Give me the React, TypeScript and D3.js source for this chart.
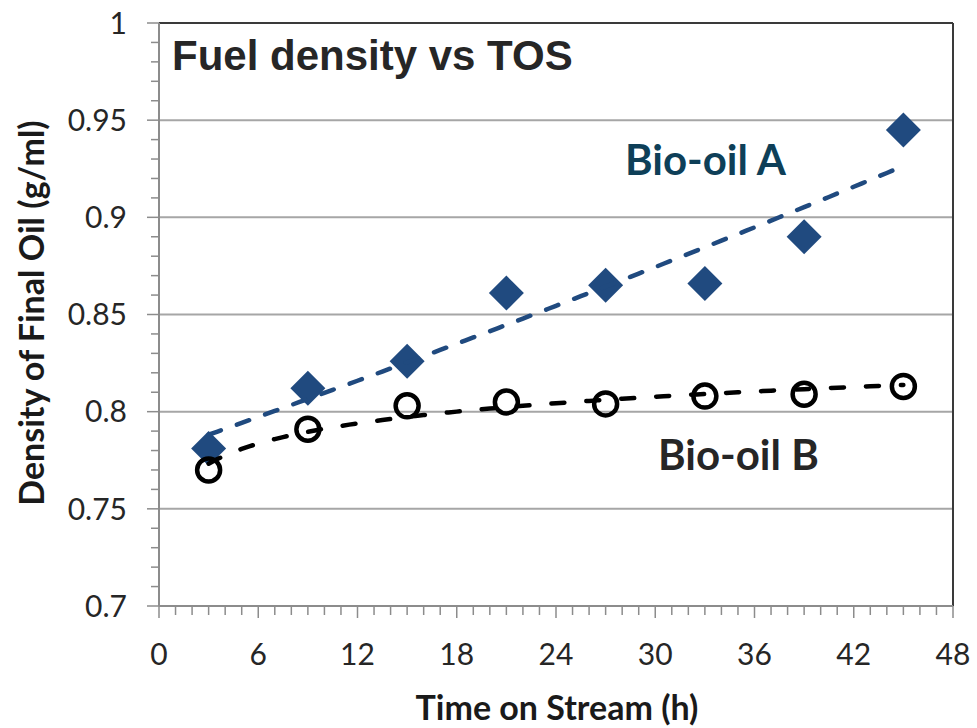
import React from "react";
import * as d3 from "d3";

// time on stream (h)
const hours = [3, 9, 15, 21, 27, 33, 39, 45];
// density of final oil (g/ml)
const bioOilA = [0.781, 0.812, 0.826, 0.861, 0.865, 0.866, 0.89, 0.945];
const bioOilB = [0.77, 0.791, 0.803, 0.805, 0.804, 0.808, 0.809, 0.813];

const xTicks = [0, 6, 12, 18, 24, 30, 36, 42, 48];
const yTicks = [0.7, 0.75, 0.8, 0.85, 0.9, 0.95, 1];
const yTickLabels = ["0.7", "0.75", "0.8", "0.85", "0.9", "0.95", "1"];

const W = 977;
const H = 728;
const plot = { left: 159, right: 953, top: 23, bottom: 606 };

// excel-style trendlines: exponential for A, logarithmic for B
function linFit(xs: number[], ys: number[]) {
  const mx = d3.mean(xs)!;
  const my = d3.mean(ys)!;
  const sxy = d3.sum(xs, (x, i) => (x - mx) * (ys[i] - my));
  const sxx = d3.sum(xs, (x) => (x - mx) ** 2);
  const b = sxy / sxx;
  return { a: my - b * mx, b };
}

export default function App() {
  const x = d3.scaleLinear().domain([0, 48]).range([plot.left, plot.right]);
  const y = d3.scaleLinear().domain([0.7, 1]).range([plot.bottom, plot.top]);

  const expFit = linFit(hours, bioOilA.map((v) => Math.log(v)));
  const logFit = linFit(hours.map((h) => Math.log(h)), bioOilB);
  const trendX = d3.range(3, 45.001, 0.5);

  const line = d3
    .line<number[]>()
    .x((d) => x(d[0]))
    .y((d) => y(d[1]));

  const trendA = line(trendX.map((t) => [t, Math.exp(expFit.a + expFit.b * t)]));
  const trendB = line(trendX.map((t) => [t, logFit.a + logFit.b * Math.log(t)]));

  const yMinor = d3.range(70, 101).map((v) => v / 100);
  const xMinor = d3.range(0, 49);

  const tickFont = "Lato, 'Open Sans', sans-serif";
  const diamond = 17.5;

  return (
    <svg
      width={W}
      height={H}
      style={{ position: "absolute", left: 0, top: 0, background: "#fff" }}
    >
      {/* gridlines */}
      {yTicks.slice(1, -1).map((t) => (
        <line
          key={"g" + t}
          x1={plot.left}
          x2={plot.right}
          y1={y(t)}
          y2={y(t)}
          stroke="#a6a6a6"
          strokeWidth={2}
        />
      ))}
      {/* plot border top / right */}
      <line x1={plot.left} x2={plot.right} y1={plot.top} y2={plot.top} stroke="#3a3a3a" strokeWidth={2} />
      <line x1={plot.right} x2={plot.right} y1={plot.top} y2={plot.bottom} stroke="#3a3a3a" strokeWidth={2} />

      {/* y axis */}
      <line x1={plot.left} x2={plot.left} y1={plot.top} y2={plot.bottom} stroke="#8c8c8c" strokeWidth={2} />
      {yMinor.map((t, i) => (
        <line
          key={"ym" + i}
          x1={plot.left - (i % 5 === 0 ? 12 : 8)}
          x2={plot.left}
          y1={y(t)}
          y2={y(t)}
          stroke="#8c8c8c"
          strokeWidth={1.5}
        />
      ))}
      {yTicks.map((t, i) => (
        <text
          key={"yl" + t}
          x={127}
          y={y(t)}
          dy="0.36em"
          textAnchor="end"
          fontFamily={tickFont}
          fontSize={30}
          fill="#262626"
        >
          {yTickLabels[i]}
        </text>
      ))}

      {/* x axis */}
      <line x1={plot.left} x2={plot.right} y1={plot.bottom} y2={plot.bottom} stroke="#8c8c8c" strokeWidth={2} />
      {xMinor.map((t) => (
        <line
          key={"xm" + t}
          x1={x(t)}
          x2={x(t)}
          y1={plot.bottom}
          y2={plot.bottom + (t % 6 === 0 ? 12 : 9)}
          stroke="#8c8c8c"
          strokeWidth={1.5}
        />
      ))}
      {xTicks.map((t) => (
        <text
          key={"xl" + t}
          x={x(t)}
          y={665}
          textAnchor="middle"
          fontFamily={tickFont}
          fontSize={30}
          fill="#262626"
        >
          {t}
        </text>
      ))}

      {/* axis titles */}
      <text
        x={557}
        y={720}
        textAnchor="middle"
        fontFamily={tickFont}
        fontWeight="bold"
        fontSize={34}
        fill="#1a1a1a"
      >
        Time on Stream (h)
      </text>
      <text
        transform={`translate(44,313) rotate(-90)`}
        textAnchor="middle"
        fontFamily={tickFont}
        fontWeight="bold"
        fontSize={34}
        fill="#1a1a1a"
      >
        Density of Final Oil (g/ml)
      </text>

      {/* markers */}
      {hours.map((h, i) => (
        <path
          key={"a" + h}
          d={`M${x(h)},${y(bioOilA[i]) - diamond}L${x(h) + diamond},${y(bioOilA[i])}L${x(h)},${
            y(bioOilA[i]) + diamond
          }L${x(h) - diamond},${y(bioOilA[i])}Z`}
          fill="#204a7f"
        />
      ))}
      {hours.map((h, i) => (
        <circle
          key={"b" + h}
          cx={x(h)}
          cy={y(bioOilB[i])}
          r={11.5}
          fill="none"
          stroke="#000"
          strokeWidth={4.5}
        />
      ))}

      {/* trendlines */}
      <path
        d={trendA ?? ""}
        fill="none"
        stroke="#204a7f"
        strokeWidth={4.5}
        strokeDasharray="13 17"
        strokeLinecap="round"
      />
      <path
        d={trendB ?? ""}
        fill="none"
        stroke="#000"
        strokeWidth={4.5}
        strokeDasharray="13 22"
        strokeLinecap="round"
      />

      {/* labels */}
      <text
        x={172}
        y={70}
        fontFamily="'Liberation Sans', Arial, sans-serif"
        fontWeight="bold"
        fontSize={42}
        fill="#262626"
      >
        Fuel density vs TOS
      </text>
      <text
        x={625}
        y={175}
        fontFamily={tickFont}
        fontWeight="bold"
        fontSize={42}
        fill="#0e3f58"
      >
        Bio-oil A
      </text>
      <text
        x={658}
        y={470}
        fontFamily={tickFont}
        fontWeight="bold"
        fontSize={42}
        fill="#262626"
      >
        Bio-oil B
      </text>
    </svg>
  );
}
